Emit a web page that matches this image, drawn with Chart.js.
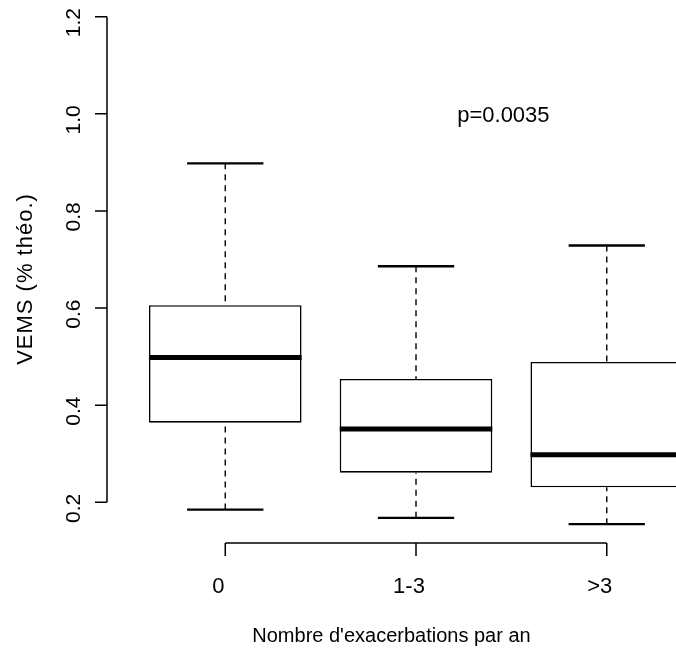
<!DOCTYPE html>
<html>
<head>
<meta charset="utf-8">
<script src="https://cdn.jsdelivr.net/npm/chart.js@4/dist/chart.umd.min.js"></script>
<style>
  html, body { margin: 0; padding: 0; background: #fff; }
  canvas { display: block; }
</style>
</head>
<body>
<canvas id="chart" width="676" height="656"></canvas>
<script>
// Boxplot stats
const categories = ['0', '1-3', '>3'];
const positions = [1, 2, 3];
const whiskerLow = [0.185, 0.168, 0.155];
const q1 = [0.364, 0.261, 0.231];
const median = [0.498, 0.351, 0.298];
const q3 = [0.606, 0.454, 0.489];
const whiskerHigh = [0.898, 0.686, 0.729];
const yTicks = [0.2, 0.4, 0.6, 0.8, 1.0, 1.2];

const xTitle = "Nombre d'exacerbations par an";
const yTitle = 'VEMS (% théo.)';
const note = 'p=0.0035';
const notePos = [2.5, 1.0];

const FAMILY = '"Liberation Sans", Arial, Helvetica, sans-serif';
const TEXT_SHIFT = -7; // R output sits a few px back along the reading direction

// whiskers, staples and medians, drawn on the library's scales
const boxExtras = {
  id: 'boxExtras',
  afterDatasetsDraw(chart) {
    const ctx = chart.ctx;
    const xs = chart.scales.x, ys = chart.scales.y;
    const meta = chart.getDatasetMeta(0);
    ctx.save();
    ctx.strokeStyle = '#000';
    positions.forEach((p, i) => {
      const x = xs.getPixelForValue(p);
      const half = meta.data[i].width / 2;
      // dashed whiskers
      ctx.lineWidth = 1.4;
      ctx.setLineDash([6, 5]);
      ctx.beginPath();
      ctx.moveTo(x, ys.getPixelForValue(whiskerHigh[i]));
      ctx.lineTo(x, ys.getPixelForValue(q3[i]));
      ctx.moveTo(x, ys.getPixelForValue(whiskerLow[i]));
      ctx.lineTo(x, ys.getPixelForValue(q1[i]));
      ctx.stroke();
      ctx.setLineDash([]);
      // staples
      ctx.lineWidth = 2.4;
      ctx.beginPath();
      [whiskerHigh[i], whiskerLow[i]].forEach(v => {
        const y = ys.getPixelForValue(v);
        ctx.moveTo(x - half / 2, y);
        ctx.lineTo(x + half / 2, y);
      });
      ctx.stroke();
      // median
      ctx.lineWidth = 5;
      ctx.beginPath();
      const ym = ys.getPixelForValue(median[i]);
      ctx.moveTo(x - half, ym);
      ctx.lineTo(x + half, ym);
      ctx.stroke();
    });
    ctx.restore();
  }
};

// R-style axes and texts
const rAxes = {
  id: 'rAxes',
  afterDraw(chart) {
    const ctx = chart.ctx;
    const xs = chart.scales.x, ys = chart.scales.y;
    const ca = chart.chartArea;
    ctx.save();
    ctx.strokeStyle = '#000';
    ctx.fillStyle = '#000';
    ctx.lineWidth = 1.5;
    ctx.textAlign = 'center';
    ctx.textBaseline = 'alphabetic';

    // y axis
    const ax = xs.getPixelForValue(xs.min);
    ctx.beginPath();
    ctx.moveTo(ax, ys.getPixelForValue(yTicks[0]));
    ctx.lineTo(ax, ys.getPixelForValue(yTicks[yTicks.length - 1]));
    yTicks.forEach(t => {
      const y = ys.getPixelForValue(t);
      ctx.moveTo(ax, y);
      ctx.lineTo(ax - 12, y);
    });
    ctx.stroke();
    ctx.font = '21px ' + FAMILY;
    yTicks.forEach(t => {
      ctx.save();
      ctx.translate(ax - 27, ys.getPixelForValue(t) - TEXT_SHIFT - 1);
      ctx.rotate(-Math.PI / 2);
      ctx.fillText(t.toFixed(1), 0, 0);
      ctx.restore();
    });

    // x axis
    const ay = ca.bottom + 13;
    ctx.beginPath();
    ctx.moveTo(xs.getPixelForValue(positions[0]), ay);
    ctx.lineTo(xs.getPixelForValue(positions[positions.length - 1]), ay);
    positions.forEach(p => {
      const x = xs.getPixelForValue(p);
      ctx.moveTo(x, ay);
      ctx.lineTo(x, ay + 13);
    });
    ctx.stroke();
    ctx.font = '22px ' + FAMILY;
    positions.forEach((p, i) => {
      ctx.fillText(categories[i], xs.getPixelForValue(p) + TEXT_SHIFT, ay + 50);
    });

    // axis titles
    ctx.font = '20px ' + FAMILY;
    ctx.fillText(xTitle, (ca.left + ca.right) / 2, ay + 99);
    ctx.save();
    ctx.font = '22px ' + FAMILY;
    ctx.letterSpacing = '1px';
    ctx.translate(32, 279);
    ctx.rotate(-Math.PI / 2);
    ctx.fillText(yTitle, 0, 0);
    ctx.restore();

    // p-value
    ctx.font = '22px ' + FAMILY;
    ctx.fillText(note, xs.getPixelForValue(notePos[0]) + TEXT_SHIFT - 1, ys.getPixelForValue(notePos[1]) + 8);
    ctx.restore();
  }
};

new Chart(document.getElementById('chart'), {
  type: 'bar',
  data: {
    datasets: [{
      data: positions.map((p, i) => ({ x: p, y: [q1[i], q3[i]] })),
      backgroundColor: '#ffffff',
      borderColor: '#000000',
      borderWidth: 1.6,
      borderSkipped: false,
      categoryPercentage: 0.8,
      barPercentage: 1.0
    }]
  },
  options: {
    responsive: false,
    animation: false,
    layout: { padding: { left: 107, right: 0, top: 0, bottom: 126 } },
    scales: {
      x: {
        type: 'linear', min: 0.38, max: 3.363, offset: false, display: false,
        ticks: { stepSize: 1, includeBounds: false }
      },
      y: { type: 'linear', min: 0.143, max: 1.2344, display: false }
    },
    plugins: {
      legend: { display: false },
      tooltip: { enabled: false }
    }
  },
  plugins: [boxExtras, rAxes]
});
</script>
</body>
</html>
